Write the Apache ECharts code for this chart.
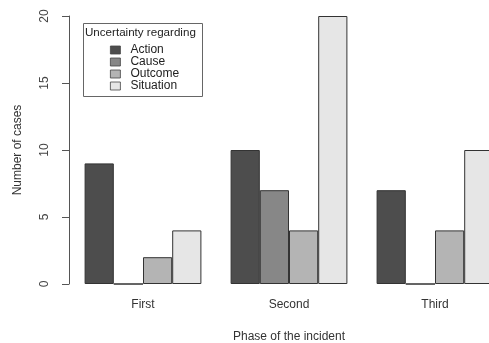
<!DOCTYPE html>
<html><head><meta charset="utf-8">
<script src="https://cdn.jsdelivr.net/npm/echarts@6/dist/echarts.min.js"></script>
<style>html,body{margin:0;padding:0;background:#fff}#c{width:489px;height:343px}</style>
</head><body><div id="c"></div>
<script>
const categories = ['First', 'Second', 'Third'];
const seriesNames = ['Action', 'Cause', 'Outcome', 'Situation'];
const action = [9, 10, 7];
const cause = [0, 7, 0];
const outcome = [2, 4, 4];
const situation = [4, 20, 10];
const yTicks = [0, 5, 10, 15, 20];
const colors = ['#4D4D4D', '#878787', '#B4B4B4', '#E6E6E6'];
const values = [action, cause, outcome, situation];
const font = 'Liberation Sans, Arial, sans-serif';

const chart = echarts.init(document.getElementById('c'));
chart.setOption({
  animation: false,
  grid: {left: 70, width: 438, top: 16, height: 268, containLabel: false, outerBoundsMode: 'none'},
  xAxis: {
    type: 'category', data: categories,
    axisLine: {show: false}, axisTick: {show: false},
    axisLabel: {color: '#333', fontSize: 12, fontFamily: font, margin: 15},
    name: 'Phase of the incident', nameLocation: 'middle', nameGap: 47,
    nameTextStyle: {color: '#333', fontSize: 12, fontFamily: font}
  },
  yAxis: {
    type: 'value', min: yTicks[0], max: yTicks[yTicks.length - 1], interval: 5,
    offset: 1,
    splitLine: {show: false},
    axisLine: {show: true, lineStyle: {color: '#555', width: 1}},
    axisTick: {show: true, length: 7, lineStyle: {color: '#555'}},
    axisLabel: {color: '#444', fontSize: 12, fontFamily: font, rotate: 90, margin: 18},
    name: 'Number of cases', nameLocation: 'middle', nameGap: 45,
    nameTextStyle: {color: '#333', fontSize: 12, fontFamily: font}
  },
  legend: {
    orient: 'vertical', left: 110, top: 44, itemWidth: 10, itemHeight: 8, itemGap: 0,
    padding: 0,
    data: seriesNames,
    itemStyle: {borderColor: '#444', borderWidth: 0.8},
    textStyle: {color: '#222', fontSize: 12, lineHeight: 12, fontFamily: font, padding: [0, 0, 0, 5]},
    icon: 'rect'
  },
  graphic: [
    {type: 'rect', shape: {x: 83.5, y: 23.5, width: 119, height: 73}, style: {fill: 'none', stroke: '#666', lineWidth: 1}, z: 10},
    {type: 'text', x: 85, y: 27, style: {text: 'Uncertainty regarding', fill: '#222', fontSize: 11.6, fontFamily: font}, z: 10}
  ],
  series: seriesNames.map((n, i) => ({
    name: n, type: 'bar', data: values[i], barGap: '0%', barCategoryGap: '20%',
    itemStyle: {color: colors[i], borderColor: '#333', borderWidth: 1},
    emphasis: {disabled: true}
  }))
});
</script></body></html>
